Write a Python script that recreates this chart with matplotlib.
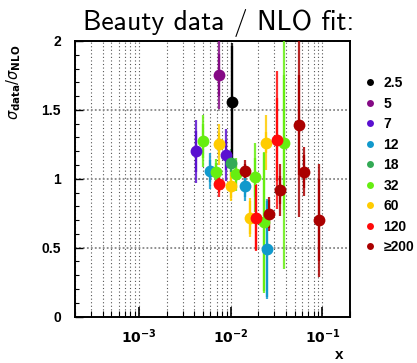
import os
import matplotlib
matplotlib.use("Agg")
import matplotlib.pyplot as plt
from matplotlib.lines import Line2D
from matplotlib.font_manager import FontProperties
from matplotlib.ticker import FixedLocator, NullFormatter, FuncFormatter, MultipleLocator
import numpy as np

# ---------------- data ----------------
series_labels = ["2.5", "5", "7", "12", "18", "32", "60", "120", "\u2265200"]
series_colors = ["#000000", "#850a85", "#5a10d0", "#1199cc", "#33aa55",
                 "#66ee11", "#ffcc00", "#ff0a0a", "#aa0000"]

x_vals = [
    [1.04e-2],
    [7.4e-3],
    [4.16e-3, 8.98e-3],
    [6.0e-3, 1.42e-2, 2.5e-2],
    [1.016e-2],
    [5.0e-3, 6.87e-3, 1.13e-2, 1.84e-2, 2.3e-2, 3.77e-2],
    [7.46e-3, 1.016e-2, 1.61e-2, 2.44e-2],
    [7.4e-3, 1.9e-2, 3.19e-2],
    [1.42e-2, 2.6e-2, 3.49e-2, 5.53e-2, 6.22e-2, 9.28e-2],
]
y_vals = [
    [1.555],
    [1.754],
    [1.20, 1.173],
    [1.059, 0.95, 0.49],
    [1.117],
    [1.275, 1.047, 1.033, 1.011, 0.684, 1.262],
    [1.25, 0.95, 0.717, 1.262],
    [0.96, 0.717, 1.284],
    [1.059, 0.744, 0.918, 1.39, 1.052, 0.70],
]
stat_err = [
    [0.41],
    [0.155],
    [0.15, 0.11],
    [0.08, 0.08, 0.35],
    [0.065],
    [0.125, 0.07, 0.08, 0.14, 0.50, 0.49],
    [0.08, 0.09, 0.12, 0.075],
    [0.055, 0.235, 0.30],
    [0.05, 0.10, 0.10, 0.36, 0.12, 0.30],
]
tot_err = [
    [0.43],
    [0.25],
    [0.23, 0.19],
    [0.13, 0.11, 0.36],
    [0.10],
    [0.19, 0.10, 0.12, 0.25, 0.51, 0.92],
    [0.15, 0.11, 0.14, 0.20],
    [0.09, 0.245, 0.50],
    [0.08, 0.12, 0.19, 0.67, 0.18, 0.41],
]

y_ticks = [0, 0.5, 1, 1.5, 2]
y_tick_labels = ["0", "0.5", "1", "1.5", "2"]
x_major = [1e-3, 1e-2, 1e-1]
title_text = "Beauty data / NLO fit:"

# ---------------- figure ----------------
fig = plt.figure(figsize=(4.17, 3.63), dpi=100)
ax = fig.add_axes([75/417, (363-316.5)/363, 275/417, 275.5/363])

ax.set_xscale("log")
ax.set_xlim(2e-4, 0.2)
ax.set_ylim(0, 2)

# grid
minor = []
for d in [1e-4, 1e-3, 1e-2, 1e-1]:
    for m in range(2, 10):
        v = m * d
        if 2e-4 <= v <= 0.2:
            minor.append(v)
ax.xaxis.set_major_locator(FixedLocator(x_major))
ax.xaxis.set_minor_locator(FixedLocator(minor))
ax.xaxis.set_minor_formatter(NullFormatter())
ax.xaxis.set_major_formatter(FuncFormatter(
    lambda v, p: r"$\mathbf{10^{%d}}$" % int(round(np.log10(v)))))
ax.grid(True, which="both", axis="x", color="#555555",
        linestyle=(0, (1, 2.2)), linewidth=0.8)
ax.grid(True, which="major", axis="y", color="#888888",
        linestyle=(0, (1, 1.2)), linewidth=1.3)
ax.set_axisbelow(True)

ax.set_yticks(y_ticks)
ax.set_yticklabels(y_tick_labels)
ax.yaxis.set_minor_locator(MultipleLocator(0.1))
ax.tick_params(axis="both", which="both", direction="in", top=False, right=False)
ax.tick_params(axis="x", which="major", length=7, width=1.2, pad=8)
ax.tick_params(axis="x", which="minor", length=4, width=0.8)
ax.tick_params(axis="y", which="major", length=6, width=1, pad=10)
ax.tick_params(axis="y", which="minor", length=3, width=0.8)
for lab in ax.get_xticklabels() + ax.get_yticklabels():
    lab.set_fontfamily(["Liberation Sans", "DejaVu Sans"])
    lab.set_fontweight("bold")
    lab.set_fontsize(10)
for s in ax.spines.values():
    s.set_linewidth(1.4)

# data
for xs, ys, se, te, col in zip(x_vals, y_vals, stat_err, tot_err, series_colors):
    ax.errorbar(xs, ys, yerr=te, fmt="none", ecolor=col, elinewidth=1.6,
                alpha=0.85, capsize=0, zorder=3)
    ax.errorbar(xs, ys, yerr=se, fmt="o", color=col, markersize=8.5,
                ecolor=col, elinewidth=1.6, capsize=4.5, capthick=1.2,
                markeredgewidth=0, zorder=4)

# legend
handles = [Line2D([], [], linestyle="none", marker="o", markersize=5,
                  color=c, markeredgewidth=0) for c in series_colors]
leg = ax.legend(handles, series_labels, loc="upper left",
                bbox_to_anchor=(364/417, (363-76)/363),
                bbox_transform=fig.transFigure, frameon=False,
                handlelength=0.9, handletextpad=0.5, labelspacing=0.47,
                borderaxespad=0, borderpad=0,
                prop={"family": ["Liberation Sans", "DejaVu Sans"],
                      "weight": "bold", "size": 10})

# labels
cmss_path = os.path.join(matplotlib.get_data_path(), "fonts", "ttf", "cmss10.ttf")
if os.path.exists(cmss_path):
    title_fp = FontProperties(fname=cmss_path, size=20)
else:
    title_fp = FontProperties(family="DejaVu Sans", size=17)
fig.text(219/417, (363-30)/363, title_text, fontproperties=title_fp,
         ha="center", va="baseline")
ax.set_ylabel(r"$\sigma_{\mathbf{data}}/\sigma_{\mathbf{NLO}}$",
              fontsize=10.5, math_fontfamily="dejavusans")
ax.yaxis.set_label_coords(-0.19, 0.85)
ax.set_xlabel("x", fontfamily=["Liberation Sans", "DejaVu Sans"],
              fontweight="bold", fontsize=11)
ax.xaxis.set_label_coords(0.975, -0.115)
ax.xaxis.label.set_ha("right")

fig.savefig("out.png", dpi=100)
